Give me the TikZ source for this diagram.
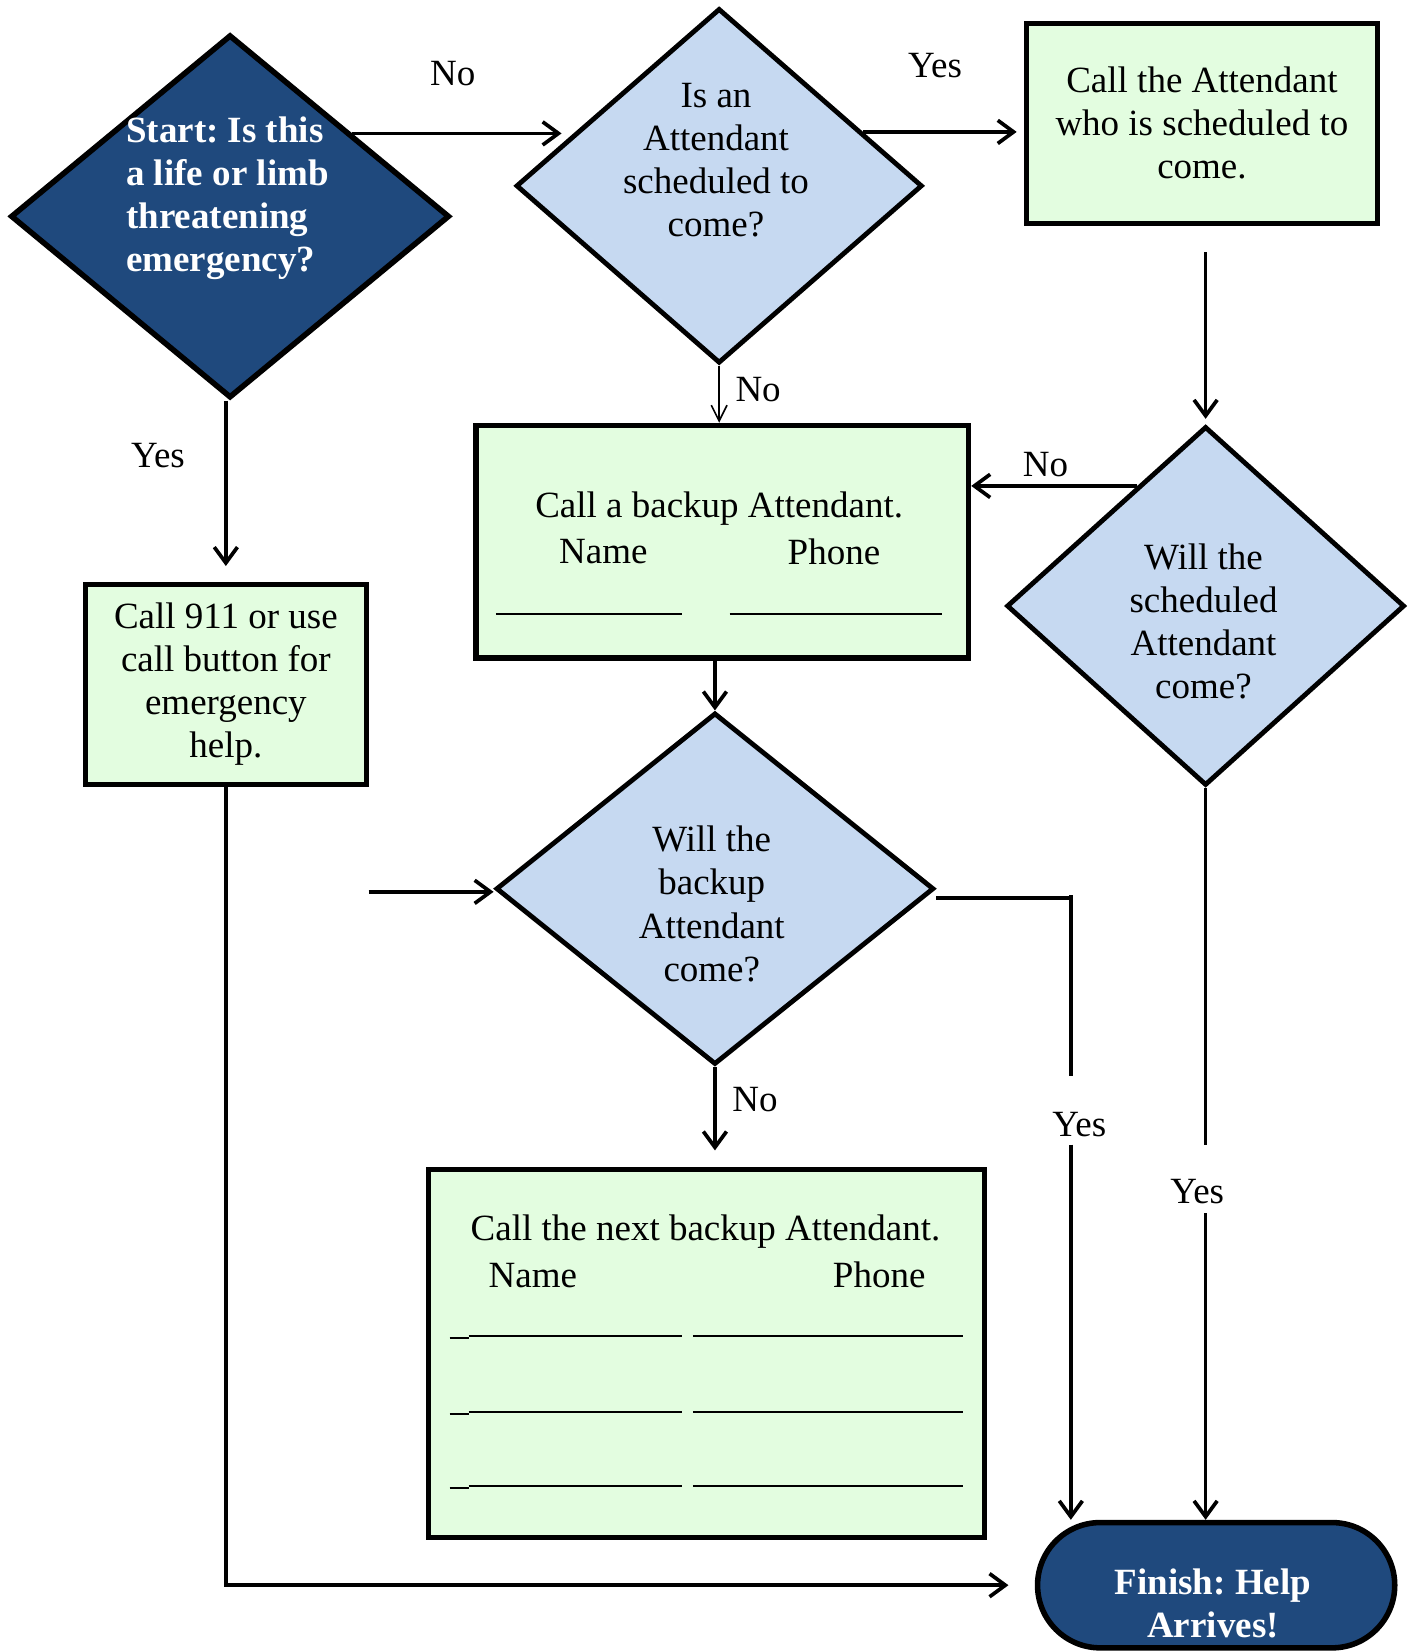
\documentclass[tikz,border=0pt]{standalone}
\usepackage{fontspec}
\setmainfont{Liberation Serif}
\usetikzlibrary{arrows.meta,shapes.geometric,shapes.misc,calc}
\definecolor{navy}{RGB}{31,73,125}
\definecolor{paleblue}{RGB}{198,217,241}
\definecolor{palegreen}{RGB}{227,253,224}
\frenchspacing

\begin{document}
\begin{tikzpicture}[x=0.02cm,y=-0.02cm,
  every node/.style={font=\fontsize{20}{23.3}\selectfont},
  ask/.style={diamond,draw,line width=2.6pt,fill=paleblue,inner sep=0pt},
  todo/.style={rectangle,draw,line width=2.8pt,fill=palegreen,align=center,inner sep=0pt},
  whitebold/.style={text=white,font=\bfseries\fontsize{20}{23.3}\selectfont},
  flow/.style={line width=2pt,-{Straight Barb[length=0.3cm,width=0.44cm,line width=2pt]}},
  wire/.style={line width=2pt}]

\useasboundingbox (0,0) rectangle (1342,1568);

\node[ask,fill=navy,line width=3pt,minimum width=8.34cm,minimum height=6.9cm] (start) at (218.5,205.5) {};
\node[whitebold,align=left] (starttext) at (216,188.5) {Start: Is this\\a life or limb\\threatening\\emergency?};

\node[ask,minimum width=7.72cm,minimum height=6.74cm] (q1) at (683,176.5) {};
\node[align=center] (q1text) at (680,152) {Is an\\Attendant\\scheduled to\\come?};

\node[todo,minimum width=6.66cm,minimum height=3.8cm] (box1) at (1141.5,117) {Call the Attendant\\who is scheduled to\\come.};

\node[ask,minimum width=7.56cm,minimum height=6.82cm] (q3) at (1145,575.5) {};
\node[align=center] (q3text) at (1143,590) {Will the\\scheduled\\Attendant\\come?};

\node[todo,minimum width=5.34cm,minimum height=3.8cm] (call) at (214.5,650) {Call 911 or use\\call button for\\emergency\\help.};

\node[todo,minimum width=9.36cm,minimum height=4.42cm] (box2) at (686,514.5) {};
\node (box2head) at (683,483) {Call a backup Attendant.};
\node (box2name) at (573,524) {Name};
\node (box2phone) at (792,524) {Phone};
\draw[line width=1.1pt] (471,583) -- (648,583) (693,583) -- (895,583);

\node[ask,minimum width=8.32cm,minimum height=6.68cm] (q2) at (679,844) {};
\node[align=center] (q2text) at (676,858.5) {Will the\\backup\\Attendant\\come?};

\node[todo,minimum width=10.56cm,minimum height=6.98cm] (box3) at (671,1285.5) {};
\node (box3head) at (670,1170) {Call the next backup Attendant.};
\node (box3name) at (506,1211) {Name};
\node (box3phone) at (835,1211) {Phone};
\foreach \y in {1269,1341,1411}
  \draw[line width=1.1pt] (427,\y+2) -- (445,\y+2) (445,\y) -- (648,\y) (658,\y) -- (915,\y);

\node[rounded rectangle,draw,line width=3pt,fill=navy,minimum width=7.02cm,minimum height=2.38cm] (finish) at (1155,1505.5) {};
\node[whitebold,align=center] (finishtext) at (1152,1522.5) {Finish: Help\\Arrives!};

\coordinate (startne) at ($(start.north)!0.55!(start.east)$);
\coordinate (q1nw) at ($(q1.north)!0.7!(q1.west)$);
\coordinate (q1ne) at ($(q1.north)!0.7!(q1.east)$);
\coordinate (q3nw) at ($(q3.north)!0.34!(q3.west)$);
\coordinate (spare) at (350,847);
\coordinate (q2bend) at (1017,853);

\draw[flow,shorten >=0.26cm] (startne) -- (startne -| q1nw);
\draw[flow,shorten >=0.14cm] (q1ne) -- (q1ne -| box1.west);
\draw[line width=0.9pt,-{Straight Barb[length=0.3cm,width=0.3cm,line width=0.9pt]}] (q1.south) -- (q1.south |- box2.north);
\draw[flow,shorten <=0.5cm,shorten >=0.1cm] (q3.north |- box1.south) -- (q3.north);
\draw[flow] (q3nw) -- (q3nw -| box2.east);
\draw[flow] (q2.north |- box2.south) -- (q2.north);
\draw[flow] (spare) -- (spare -| q2.west);
\draw[flow,shorten >=0.32cm] (q2.south) -- (q2.south |- box3.north);
\draw[wire] (q2bend -| q2.east) -- (q2bend);
\draw[wire] ($(q2bend)+(0,-3)$) -- ($(q2bend)+(0,169)$);
\draw[flow] ($(q2bend)+(0,234)$) -- (q2bend |- finish.north);
\draw[wire] (q3.south) -- ($(q3.south)+(0,339)$);
\draw[flow] ($(q3.south)+(0,404)$) -- (q3.south |- finish.north);
\draw[flow,shorten >=0.3cm] (call.north |- start.south) -- (call.north);
\draw[flow,shorten >=0.5cm] (call.south) |- (finish.west);

\node (no1) at (430,70) {No};
\node (yes1) at (888,62) {Yes};
\node (no2) at (720,370) {No};
\node (no3) at (993,441) {No};
\node (yes0) at (150,433) {Yes};
\node (no4) at (717,1044) {No};
\node (yes2) at (1025,1068) {Yes};
\node (yes3) at (1137,1132) {Yes};
\end{tikzpicture}
\end{document}
